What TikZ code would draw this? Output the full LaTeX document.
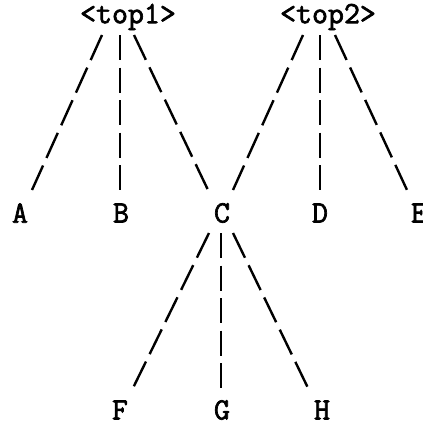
\documentclass[tikz,border=0pt]{standalone}
\usepackage{fontspec}
\newfontfamily\twfont{Latin Modern Mono}[FakeBold=2.2]
\begin{document}
\begin{tikzpicture}[x=1pt,y=-1pt,
  lbl/.style={font=\twfont\fontsize{31}{31}\selectfont, inner sep=0pt, anchor=center},
  vline/.style={line width=2.4pt, dash pattern=on 25pt off 7.5pt},
  sline/.style={line width=2.4pt, dash pattern=on 27.5pt off 8.3pt}]
\useasboundingbox (0,0) rectangle (423,423);
\node[lbl] (top1) at (128,17) {<top1>};
\node[lbl] (top2) at (328,17) {<top2>};
\node[lbl] (A) at (20,213) {A};
\node[lbl] (B) at (121,213) {B};
\node[lbl] (C) at (222,213) {C};
\node[lbl] (D) at (320,213) {D};
\node[lbl] (E) at (419,213) {E};
\node[lbl] (F) at (120,410) {F};
\node[lbl] (G) at (222,410) {G};
\node[lbl] (H) at (322,410) {H};
% top1
\draw[sline] ([shift={(-26,18)}]top1.center) -- ([shift={(12,-23)}]A.center);
\draw[vline] ([shift={(-8,18)}]top1.center) -- ([shift={(-1,-23)}]B.center);
\draw[sline] ([shift={(6,18)}]top1.center) -- ([shift={(-14,-23)}]C.center);
% top2
\draw[sline] ([shift={(-25,18)}]top2.center) -- ([shift={(11,-23)}]C.center);
\draw[vline] ([shift={(-8,18)}]top2.center) -- ([shift={(0,-23)}]D.center);
\draw[sline] ([shift={(7,18)}]top2.center) -- ([shift={(-12,-23)}]E.center);
% C
\draw[sline] ([shift={(-13,20)}]C.center) -- ([shift={(13,-22)}]F.center);
\draw[vline] ([shift={(-1,20)}]C.center) -- ([shift={(-1,-22)}]G.center);
\draw[sline] ([shift={(11,20)}]C.center) -- ([shift={(-14,-22)}]H.center);
\end{tikzpicture}
\end{document}
